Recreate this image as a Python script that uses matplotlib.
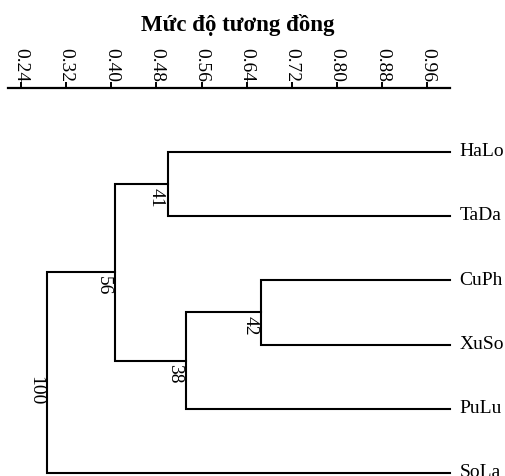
import matplotlib
matplotlib.use("Agg")
import matplotlib.pyplot as plt

plt.rcParams["font.family"] = ["Liberation Serif", "DejaVu Serif"]

# leaves top to bottom
leaves = ["HaLo", "TaDa", "CuPh", "XuSo", "PuLu", "SoLa"]
# merges: (left child, right child, similarity, bootstrap support)
merge_left = ["HaLo", "CuPh", "C2", "C1", "C4"]
merge_right = ["TaDa", "XuSo", "PuLu", "C3", "SoLa"]
merge_sim = [0.500, 0.666, 0.532, 0.406, 0.286]
merge_support = [41, 42, 38, 56, 100]
xticks = [0.24, 0.32, 0.40, 0.48, 0.56, 0.64, 0.72, 0.80, 0.88, 0.96]

fig = plt.figure(figsize=(5.05, 4.77), dpi=100)
ax = fig.add_axes([8 / 505, 0, (450 - 8) / 505, 1 - 89 / 477])

# node positions: (x, y)
pos = {name: (1.0, i) for i, name in enumerate(leaves)}
lw = 1.5
for k, (a, b, s, sup) in enumerate(zip(merge_left, merge_right, merge_sim, merge_support)):
    xa, ya = pos[a]
    xb, yb = pos[b]
    ax.plot([xa, s, s, xb], [ya, ya, yb, yb], color="black", lw=lw,
            solid_joinstyle="miter", clip_on=False)
    ym = (ya + yb) / 2
    pos["C%d" % (k + 1)] = (s, ym)
    ax.annotate(str(sup), (s, ym), xytext=(-2, -2), textcoords="offset points",
                rotation=-90, ha="right", va="top", fontsize=14)

for name in leaves:
    x, y = pos[name]
    ax.annotate(name, (x, y), xytext=(7, 1), textcoords="offset points",
                ha="left", va="center", fontsize=14, annotation_clip=False)

ax.set_xlim(0.217, 1.0)
ax.set_ylim(5.05, -1.0)
ax.xaxis.tick_top()
ax.set_xticks(xticks)
ax.set_xticklabels(["%.2f" % t for t in xticks], rotation=-90, fontsize=14)
ax.tick_params(axis="x", length=4, width=1.4, pad=1)
ax.set_yticks([])
for sp in ["bottom", "left", "right"]:
    ax.spines[sp].set_visible(False)
ax.spines["top"].set_linewidth(1.6)

fig.text(238 / 505, 1 - 25 / 477, "Mức độ tương đồng", ha="center", va="center",
         fontsize=16.5, fontweight="bold")

fig.savefig("out.png", dpi=100)
